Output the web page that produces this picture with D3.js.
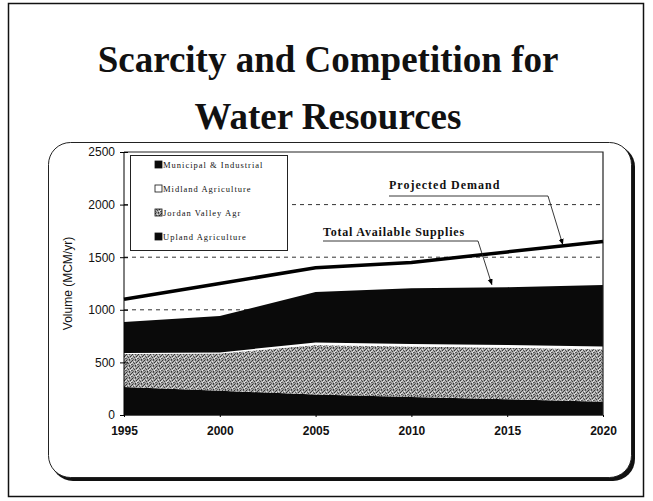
<!DOCTYPE html>
<html>
<head>
<meta charset="utf-8">
<script src="https://cdn.jsdelivr.net/npm/d3@7"></script>
<style>
  body { margin: 0; background: #fff; }
  svg { display: block; }
</style>
</head>
<body>
<script>
// values (MCM/yr)
const years = [1995, 2000, 2005, 2010, 2015, 2020];
const upland = [265, 230, 195, 170, 150, 125];
const jordanValley = [315, 355, 470, 480, 490, 500];
const midland = [10, 10, 25, 25, 25, 25];
const municipal = [295, 345, 480, 530, 550, 585];
const demand = [1100, 1250, 1400, 1450, 1550, 1650];

const yTicks = [0, 500, 1000, 1500, 2000, 2500];
const gridLines = [1000, 1500, 2000];
const legendItems = ["Municipal & Industrial", "Midland Agriculture", "Jordan Valley Agr", "Upland Agriculture"];

const W = 653, H = 501;

const svg = d3.select("body").append("svg")
  .attr("width", W)
  .attr("height", H);

const defs = svg.append("defs");
// speckled grey (photocopied halftone) for the Jordan Valley band
const speckle = [
  [0, 0, "#333"], [3, 0, "#555"], [5, 1, "#444"], [1, 2, "#555"], [4, 2, "#333"],
  [2, 3, "#444"], [0, 4, "#666"], [5, 4, "#555"], [3, 5, "#333"], [1, 5, "#666"],
  [2, 1, "#e4e4e4"], [4, 4, "#eee"], [0, 2, "#ddd"], [5, 3, "#e4e4e4"]
];
const pat = defs.append("pattern")
  .attr("id", "dots")
  .attr("width", 6).attr("height", 6)
  .attr("patternUnits", "userSpaceOnUse");
pat.append("rect").attr("width", 6).attr("height", 6).attr("fill", "#a6a6a6");
pat.selectAll(".px")
  .data(speckle)
  .join("rect")
  .attr("x", d => d[0]).attr("y", d => d[1])
  .attr("width", 1).attr("height", 1)
  .attr("fill", d => d[2]);

// slide frame
svg.append("rect")
  .attr("x", 8.5).attr("y", 3.5)
  .attr("width", 635).attr("height", 493)
  .attr("fill", "none")
  .attr("stroke", "#111")
  .attr("stroke-width", 1.5);

// title
const title = svg.append("text")
  .attr("text-anchor", "middle")
  .style("font-family", "'Liberation Serif', 'Times New Roman', serif")
  .style("font-weight", "bold")
  .style("font-size", "37px")
  .attr("fill", "#111");
title.append("tspan").attr("x", 328).attr("y", 72).text("Scarcity and Competition for");
title.append("tspan").attr("x", 328).attr("y", 129).text("Water Resources");

// rounded chart panel with heavy shadow
svg.append("rect")
  .attr("x", 51).attr("y", 145)
  .attr("width", 584).attr("height", 336)
  .attr("rx", 22)
  .attr("fill", "#111");
svg.append("rect")
  .attr("x", 48.5).attr("y", 142.5)
  .attr("width", 583).attr("height", 335)
  .attr("rx", 22)
  .attr("fill", "#fff")
  .attr("stroke", "#222")
  .attr("stroke-width", 1);

const x = d3.scaleLinear().domain([1995, 2020]).range([124, 603]);
const y = d3.scaleLinear().domain([0, 2500]).range([415, 152]);

const table = years.map((yr, i) => ({
  year: yr,
  upland: upland[i],
  jordan: jordanValley[i],
  midland: midland[i],
  municipal: municipal[i]
}));

const keys = ["upland", "jordan", "midland", "municipal"];
const fills = { upland: "#0a0a0a", jordan: "url(#dots)", midland: "#fff", municipal: "#0a0a0a" };

const series = d3.stack().keys(keys)(table);

// dashed grid
svg.append("g").selectAll("line")
  .data(gridLines)
  .join("line")
  .attr("x1", x(1995)).attr("x2", x(2020))
  .attr("y1", d => y(d)).attr("y2", d => y(d))
  .attr("stroke", "#333")
  .attr("stroke-width", 1)
  .attr("stroke-dasharray", "4,4");

const area = d3.area()
  .x(d => x(d.data.year))
  .y0(d => y(d[0]))
  .y1(d => y(d[1]));

svg.append("g").selectAll("path")
  .data(series)
  .join("path")
  .attr("d", area)
  .attr("fill", d => fills[d.key]);

// plot frame top / right
svg.append("path")
  .attr("d", `M${x(1995)},${y(2500)}H${x(2020)}V${y(0)}`)
  .attr("fill", "none")
  .attr("stroke", "#222")
  .attr("stroke-width", 1.2);

// demand line
const line = d3.line()
  .x((d, i) => x(years[i]))
  .y(d => y(d));

svg.append("path")
  .datum(demand)
  .attr("d", line)
  .attr("fill", "none")
  .attr("stroke", "#000")
  .attr("stroke-width", 3.5);

// axes
const yAxis = svg.append("g")
  .attr("transform", `translate(${x(1995)},0)`)
  .call(d3.axisLeft(y).tickValues(yTicks).tickFormat(d3.format("d")).tickSize(4).tickPadding(5));
yAxis.selectAll(".tick").append("line").attr("x2", 4).attr("stroke", "currentColor");
yAxis.select(".domain").attr("d", `M0,${y(0)}V${y(2500)}`);
yAxis.selectAll("text")
  .style("font-family", "'Liberation Sans', Arial, sans-serif")
  .style("font-size", "12px")
  .attr("fill", "#111");

const xAxis = svg.append("g")
  .attr("transform", `translate(0,${y(0)})`)
  .call(d3.axisBottom(x).tickValues(years).tickFormat(d3.format("d")).tickSize(2).tickPadding(9));
xAxis.select(".domain").attr("stroke", "#555");
xAxis.selectAll("text")
  .style("font-family", "'Liberation Sans', Arial, sans-serif")
  .style("font-weight", "bold")
  .style("font-size", "12px")
  .attr("fill", "#111");

svg.append("text")
  .attr("transform", `translate(72,${y(1250)}) rotate(-90)`)
  .attr("text-anchor", "middle")
  .style("font-family", "'Liberation Sans', Arial, sans-serif")
  .style("font-size", "12px")
  .attr("fill", "#111")
  .text("Volume (MCM/yr)");

// legend
const lg = svg.append("g");
lg.append("rect")
  .attr("x", 130.5).attr("y", 155.5)
  .attr("width", 157).attr("height", 95)
  .attr("fill", "#fff")
  .attr("stroke", "#222")
  .attr("stroke-width", 1);
const lgFills = ["#0a0a0a", "#fff", "url(#dots)", "#0a0a0a"];
const li = lg.selectAll(".li")
  .data(legendItems)
  .join("g")
  .attr("class", "li")
  .attr("transform", (d, i) => `translate(155,${165 + i * 24})`);
li.append("rect")
  .attr("x", 0).attr("y", -4)
  .attr("width", 7).attr("height", 7)
  .attr("fill", (d, i) => lgFills[i])
  .attr("stroke", "#111")
  .attr("stroke-width", 0.8);
li.append("text")
  .attr("x", 8).attr("y", 3)
  .style("font-family", "'Liberation Serif', 'Times New Roman', serif")
  .style("font-size", "8.5px")
  .style("letter-spacing", "1px")
  .attr("fill", "#111")
  .text(d => d);

// annotations
const noteFont = "'Liberation Serif', 'Times New Roman', serif";
svg.append("text")
  .attr("x", 389).attr("y", 189)
  .style("font-family", noteFont)
  .style("font-weight", "bold")
  .style("font-size", "12px")
  .style("letter-spacing", "1px")
  .attr("fill", "#111")
  .text("Projected Demand");
svg.append("text")
  .attr("x", 323).attr("y", 236)
  .style("font-family", noteFont)
  .style("font-weight", "bold")
  .style("font-size", "12px")
  .style("letter-spacing", "0.8px")
  .attr("fill", "#111")
  .text("Total Available Supplies");

defs.append("marker")
  .attr("id", "arr")
  .attr("viewBox", "0 0 10 10")
  .attr("refX", 9).attr("refY", 5)
  .attr("markerWidth", 7).attr("markerHeight", 7)
  .attr("orient", "auto")
  .append("path")
  .attr("d", "M0,1L10,5L0,9z")
  .attr("fill", "#000");

svg.append("path")
  .attr("d", `M389,196H548L${x(2017.9)},${y(1640) + 2}`)
  .attr("fill", "none")
  .attr("stroke", "#222")
  .attr("stroke-width", 0.9)
  .attr("marker-end", "url(#arr)");
svg.append("path")
  .attr("d", `M323,241H478L${x(2014.2)},${y(1220) - 2}`)
  .attr("fill", "none")
  .attr("stroke", "#222")
  .attr("stroke-width", 0.9)
  .attr("marker-end", "url(#arr)");
</script>
</body>
</html>
